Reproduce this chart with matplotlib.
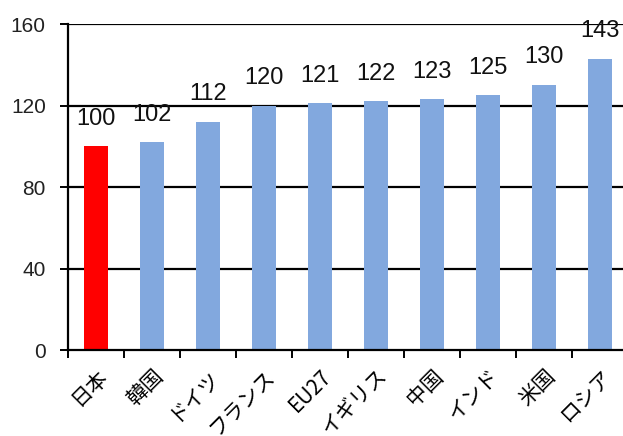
import matplotlib
matplotlib.use("Agg")
import matplotlib.pyplot as plt

countries = ["日本", "韓国", "ドイツ", "フランス", "EU27", "イギリス", "中国", "インド", "米国", "ロシア"]
values = [100, 102, 112, 120, 121, 122, 123, 125, 130, 143]
y_ticks = [0, 40, 80, 120, 160]

highlight = "#FF0000"
base = "#82A8DE"
colors = [highlight] + [base] * (len(values) - 1)

fig = plt.figure(figsize=(6.23, 4.36), dpi=100)
ax = fig.add_axes([68 / 623, 1 - 350 / 436, 560 / 623, 326 / 436])

x = list(range(len(countries)))
bars = ax.bar(x, values, width=0.42, color=colors, zorder=3)

ax.set_xlim(-0.5, len(countries) - 0.5)
ax.set_ylim(0, 160)
ax.set_yticks(y_ticks)
ax.set_yticklabels([str(v) for v in y_ticks], fontsize=15, family="Liberation Sans", color="#222222")

for g in y_ticks[1:]:
    ax.axhline(g, color="black", lw=1.6, zorder=1)

for s in ["top", "right"]:
    ax.spines[s].set_visible(False)
for s in ["left", "bottom"]:
    ax.spines[s].set_linewidth(1.6)
    ax.spines[s].set_color("black")
    ax.spines[s].set_zorder(4)

# category boundary ticks on x
ax.set_xticks([i - 0.5 for i in range(len(countries))], minor=False)
ax.set_xticklabels([])
ax.tick_params(axis="x", which="major", length=6, width=1.4, direction="out")
ax.set_xticks(x, minor=True)
ax.set_xticklabels(countries, minor=True, rotation=45, ha="right", va="top",
                   rotation_mode="anchor", fontsize=15,
                   family=["Noto Sans CJK JP", "DejaVu Sans"])
ax.tick_params(axis="x", which="minor", length=0, pad=11)
ax.tick_params(axis="y", length=6, width=1.4, direction="out", pad=10)

for xi, v in zip(x, values):
    ax.annotate(str(v), (xi, v), xytext=(0, 12), textcoords="offset points",
                ha="center", va="bottom", fontsize=17, family="Liberation Sans",
                color="#111111", annotation_clip=False, clip_on=False)

fig.savefig("out.png", dpi=100)
